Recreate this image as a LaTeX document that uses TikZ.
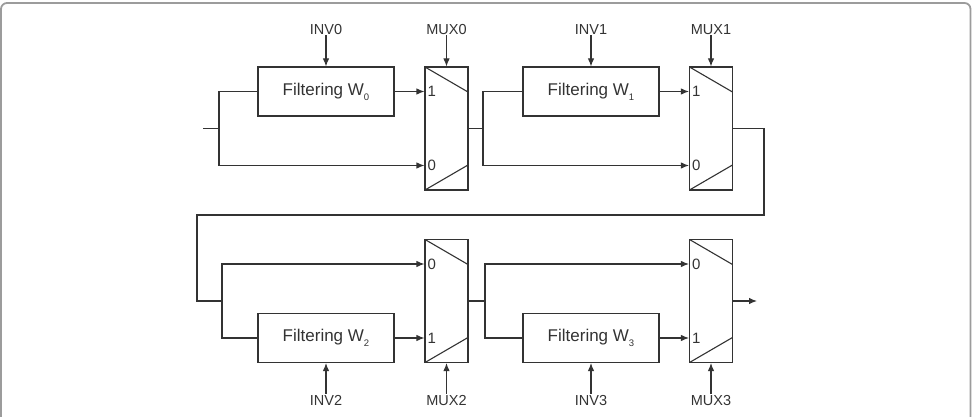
\documentclass[tikz,border=0pt]{standalone}
\usepackage{fontspec}
\setmainfont{Liberation Sans}
\usetikzlibrary{arrows.meta,positioning}

\definecolor{wiregray}{HTML}{333333}
\definecolor{framegray}{HTML}{9C9C9C}

% filter stage label with a lowered index
\newcommand{\filt}[1]{Filtering W\raisebox{-5pt}{\fontsize{9.5}{9.5}\selectfont #1}}

\tikzset{
  wire/.style={draw=wiregray, line width=1.1pt},
  sig/.style={wire, -{Latex[length=8pt,width=6.5pt]}},
  filterbox/.style={draw=wiregray, line width=1.1pt, minimum width=136pt,
    minimum height=49pt, text=wiregray, font=\fontsize{17}{20}\selectfont},
  muxbox/.style={draw=wiregray, line width=1.1pt, minimum width=43pt,
    minimum height=123pt, inner sep=0pt,
    path picture={
      \draw[wiregray, line width=1.1pt]
        (path picture bounding box.north west) -- ([yshift=-25pt]path picture bounding box.north east)
        (path picture bounding box.south west) -- ([yshift=25pt]path picture bounding box.south east);
    }},
  ctrl/.style={text=wiregray, inner sep=1pt, font=\fontsize{14.5}{16}\selectfont},
  muxin/.style={anchor=west, text=wiregray, inner sep=3pt, font=\fontsize{15}{17}\selectfont},
}

\begin{document}
\begin{tikzpicture}[x=1pt, y=1pt, node distance=31pt]
  \useasboundingbox (0,0) rectangle (972,416);
  \clip (0,0) rectangle (972,416);
  \draw[framegray, line width=1.8pt, rounded corners=6pt] (1,-20) rectangle (970.5,413);

  % upper row
  \node[filterbox] (f0) at (326,324.5) {\filt{0}};
  \node[filterbox] (f1) at (591,324.5) {\filt{1}};
  \node[muxbox] (m0) at (446.5,287.5) {};
  \node[muxbox] (m1) at (711,287.5) {};

  % lower row
  \node[filterbox] (f2) at (326,78) {\filt{2}};
  \node[filterbox] (f3) at (591,78) {\filt{3}};
  \node[muxbox] (m2) at (446.5,115) {};
  \node[muxbox] (m3) at (711,115) {};

  % select inputs
  \node[ctrl, above=of f0] (inv0) {INV0};
  \node[ctrl, above=of f1] (inv1) {INV1};
  \node[ctrl, above=of m0] (sel0) {MUX0};
  \node[ctrl, above=of m1] (sel1) {MUX1};
  \node[ctrl, below=of f2] (inv2) {INV2};
  \node[ctrl, below=of f3] (inv3) {INV3};
  \node[ctrl, below=of m2] (sel2) {MUX2};
  \node[ctrl, below=of m3] (sel3) {MUX3};
  \foreach \c/\b in {inv0/f0, inv1/f1, sel0/m0, sel1/m1}
    \draw[sig] (\c.south) -- (\b.north);
  \foreach \c/\b in {inv2/f2, inv3/f3, sel2/m2, sel3/m3}
    \draw[sig] (\c.north) -- (\b.south);

  % mux data inputs
  \coordinate (a0) at ([yshift=37pt]m0.west);
  \coordinate (b0) at ([yshift=-37pt]m0.west);
  \coordinate (a1) at ([yshift=37pt]m1.west);
  \coordinate (b1) at ([yshift=-37pt]m1.west);
  \coordinate (a2) at ([yshift=37pt]m2.west);
  \coordinate (b2) at ([yshift=-37pt]m2.west);
  \coordinate (a3) at ([yshift=37pt]m3.west);
  \coordinate (b3) at ([yshift=-37pt]m3.west);
  \foreach \p/\t in {a0/1, b0/0, a1/1, b1/0, a2/0, b2/1, a3/0, b3/1}
    \node[muxin] at (\p) {\t};

  % split points and loop
  \coordinate (in) at (203,287.5);
  \coordinate (s0) at (219,287.5);
  \coordinate (s1) at (483,287.5);
  \coordinate (s2) at (222,115);
  \coordinate (s3) at (485,115);
  \coordinate (loopR) at (764,201);
  \coordinate (loopL) at (197,201);
  \coordinate (out) at (757,115);

  % stage 0
  \draw[wire] (in) -- (s0);
  \draw[wire] (s0) |- (f0.west);
  \draw[sig] (s0) |- (b0);
  \draw[sig] (f0.east) -- (f0.east -| m0.west);
  % stage 1
  \draw[wire] (m0.east) -- (s1);
  \draw[wire] (s1) |- (f1.west);
  \draw[sig] (s1) |- (b1);
  \draw[sig] (f1.east) -- (f1.east -| m1.west);
  % back to the lower row
  \draw[wire] (m1.east) -| (loopR) -- (loopL) |- (s2);
  % stage 2
  \draw[sig] (s2) |- (a2);
  \draw[wire] (s2) |- (f2.west);
  \draw[sig] (f2.east) -- (f2.east -| m2.west);
  % stage 3
  \draw[wire] (m2.east) -- (s3);
  \draw[sig] (s3) |- (a3);
  \draw[wire] (s3) |- (f3.west);
  \draw[sig] (f3.east) -- (f3.east -| m3.west);
  \draw[sig] (m3.east) -- (out);
\end{tikzpicture}
\end{document}
